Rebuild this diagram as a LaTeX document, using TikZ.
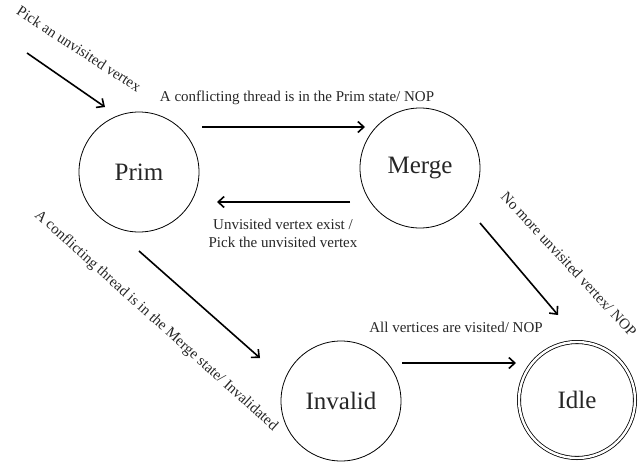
\documentclass[tikz,border=0pt]{standalone}
\usepackage{fontspec}
\setmainfont{Liberation Serif}
\usetikzlibrary{automata,positioning,arrows.meta}

\begin{document}
\begin{tikzpicture}[%
    x=1pt, y=1pt,
    >={Straight Barb[length=6pt,width=11pt]},
    every state/.style={draw, line width=0.8pt, minimum size=120pt,
        inner sep=0pt, text=black!85, font=\fontsize{25}{30}\selectfont},
    accepting/.style={double, double distance=2.4pt},
    trans/.style={->, line width=1.6pt},
    lbl/.style={inner sep=0pt, text=black!85, font=\fontsize{15}{18}\selectfont}
    ]

    \useasboundingbox (0,0) rectangle (639,-461);

    \node[state] (prim) at (139,-172) {Prim};
    \node[state] (merge) at (420,-168) {Merge};
    \node[state] (invalid) at (341,-401) {Invalid};
    \node[state, accepting, minimum size=116pt] (idle) at (577,-400) {Idle};
    \coordinate (start) at (27,-53);

    \draw[trans] (start) -- ([shift={(-34,65)}]prim.center);
    \draw[trans] ([shift={(63,45)}]prim.center) -- ([shift={(-55,41)}]merge.center);
    \draw[trans] ([shift={(-70,-34)}]merge.center) -- ([shift={(78,-30)}]prim.center);
    \draw[trans] ([shift={(0,-79)}]prim.center) -- ([shift={(-81,43)}]invalid.center);
    \draw[trans] ([shift={(60,-55)}]merge.center) -- ([shift={(-19,85)}]idle.center);
    \draw[trans] ([shift={(61,38)}]invalid.center) -- ([shift={(-61,37)}]idle.center);

    % transition labels
    \node[lbl, rotate=-33] (lblstart) at (79,-49) {Pick an unvisited vertex};
    \node[lbl] (lblpm) at (297,-98) {A conflicting thread is in the Prim state/ NOP};
    \node[lbl, align=center] (lblmp) at (283,-233) {Unvisited vertex exist /\\Pick the unvisited vertex};
    \node[lbl, rotate=-42] (lblpi) at (156,-321) {A conflicting thread is in the Merge state/ Invalidated};
    \node[lbl, rotate=-47] (lblmi) at (569,-264) {No more unvisited vertex/ NOP};
    \node[lbl] (lblii) at (456,-327) {All vertices are visited/ NOP};

\end{tikzpicture}
\end{document}
